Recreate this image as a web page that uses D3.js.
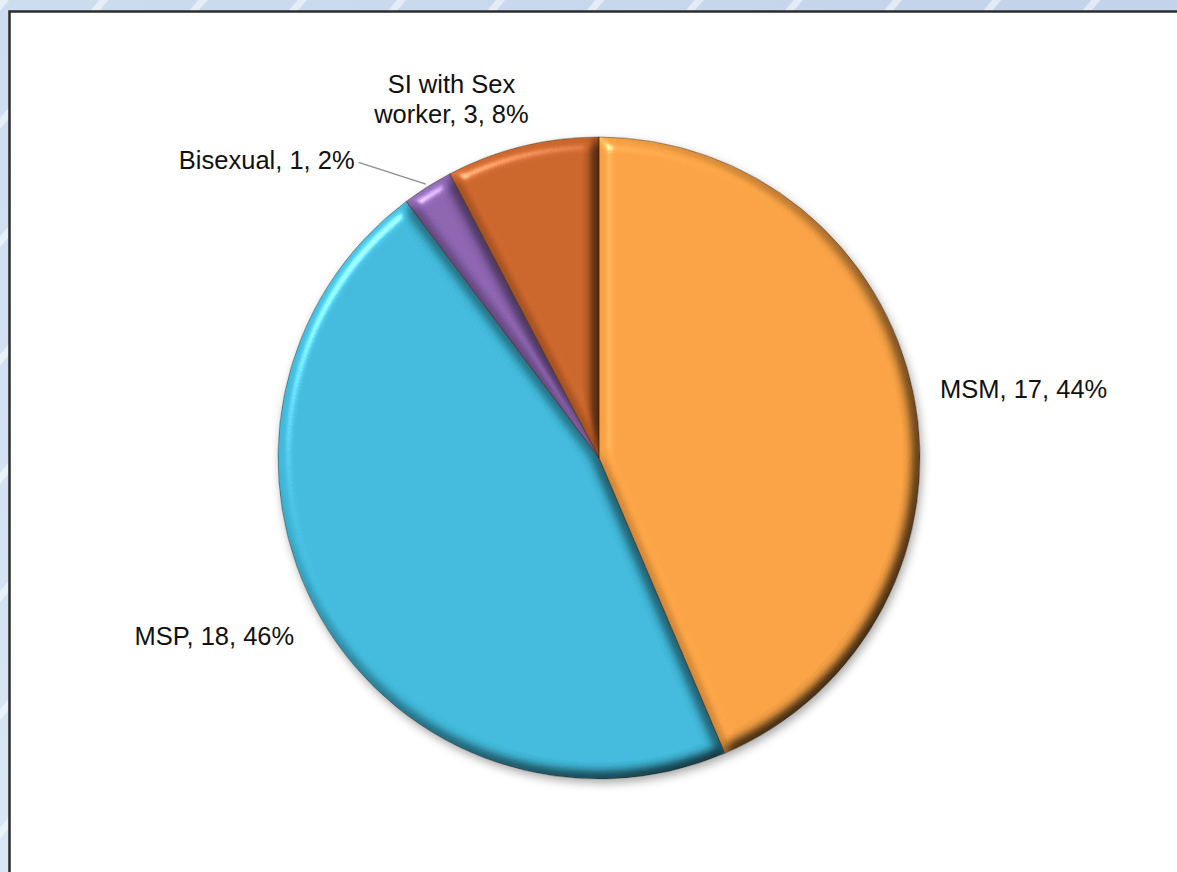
<!DOCTYPE html>
<html>
<head>
<meta charset="utf-8">
<script src="https://cdn.jsdelivr.net/npm/d3@7"></script>
<style>
  html, body { margin: 0; padding: 0; background: #d6e6f4; }
  svg { display: block; }
  text { font-family: "Liberation Sans", Arial, sans-serif; fill: #111; }
</style>
</head>
<body>
<svg id="chart" width="1177" height="872"></svg>
<script>
// Cases by mode of transmission
const categories = ["MSM", "MSP", "Bisexual", "SI with Sex worker"];
const counts = [17, 18, 1, 3];
const percents = [44, 46, 2, 8];
const colors = ["#f6a043", "#40b8d9", "#8a62ad", "#c8642a"];

const W = 1177, H = 872;
const cx = 599, cy = 458, R = 321;

const svg = d3.select("#chart");
const defs = svg.append("defs");

// Page background: pale blue with faint diagonal streaks
const bg = defs.append("linearGradient").attr("id", "bgGrad")
  .attr("x1", 0).attr("y1", 1).attr("x2", 1).attr("y2", 0);
bg.append("stop").attr("offset", 0).attr("stop-color", "#d7e7f5");
bg.append("stop").attr("offset", 1).attr("stop-color", "#c2d3ea");

const pat = defs.append("pattern").attr("id", "streaks")
  .attr("patternUnits", "userSpaceOnUse").attr("width", 76).attr("height", 76)
  .attr("patternTransform", "rotate(40)");
pat.append("rect").attr("x", 0).attr("y", 0).attr("width", 7).attr("height", 76)
  .attr("fill", "#ffffff").attr("opacity", 0.5);

svg.append("rect").attr("width", W).attr("height", H).attr("fill", "url(#bgGrad)");
svg.append("rect").attr("width", W).attr("height", H).attr("fill", "url(#streaks)");

// White chart panel
svg.append("rect")
  .attr("x", 9.5).attr("y", 11.5).attr("width", W + 20).attr("height", H + 20)
  .attr("fill", "#ffffff").attr("stroke", "#2c2c2c").attr("stroke-width", 2.5);

// Bevel filter: lit from the upper left, darker on the far edges
const bevel = defs.append("filter").attr("id", "bevel")
  .attr("x", "-10%").attr("y", "-10%").attr("width", "120%").attr("height", "120%")
  .attr("color-interpolation-filters", "sRGB");
bevel.append("feGaussianBlur").attr("in", "SourceAlpha").attr("stdDeviation", 6.5).attr("result", "blur");
const diff = bevel.append("feDiffuseLighting").attr("in", "blur")
  .attr("surfaceScale", 11).attr("diffuseConstant", 1 / Math.sin(55 * Math.PI / 180))
  .attr("lighting-color", "#ffffff").attr("result", "diff");
diff.append("feDistantLight").attr("azimuth", 225).attr("elevation", 55);
const spec = bevel.append("feSpecularLighting").attr("in", "blur")
  .attr("surfaceScale", 11).attr("specularConstant", 0.6).attr("specularExponent", 24)
  .attr("lighting-color", "#ffffff").attr("result", "spec");
spec.append("feDistantLight").attr("azimuth", 225).attr("elevation", 30);
// keep part of the base colour so the shaded rims stay a deep tone rather than black
bevel.append("feComposite").attr("in", "SourceGraphic").attr("in2", "diff")
  .attr("operator", "arithmetic").attr("k1", 0.72).attr("k2", 0.28).attr("k3", 0).attr("k4", 0)
  .attr("result", "shaded");
bevel.append("feComposite").attr("in", "spec").attr("in2", "SourceAlpha")
  .attr("operator", "in").attr("result", "specIn");
bevel.append("feComposite").attr("in", "shaded").attr("in2", "specIn")
  .attr("operator", "arithmetic").attr("k1", 0).attr("k2", 1).attr("k3", 0.7).attr("k4", 0)
  .attr("result", "lit");
bevel.append("feComposite").attr("in", "lit").attr("in2", "SourceAlpha").attr("operator", "in");

// Soft drop shadow under the whole pie
const shadow = defs.append("filter").attr("id", "shadow")
  .attr("x", "-10%").attr("y", "-10%").attr("width", "120%").attr("height", "120%");
shadow.append("feDropShadow").attr("dx", 2).attr("dy", 4).attr("stdDeviation", 5)
  .attr("flood-color", "#000").attr("flood-opacity", 0.35);

const data = categories.map((c, i) => ({ name: c, value: counts[i], pct: percents[i], color: colors[i] }));

const pie = d3.pie().value(d => d.value).sort(null);
const arcs = pie(data);
const arc = d3.arc().innerRadius(0).outerRadius(R);

const g = svg.append("g").attr("transform", `translate(${cx},${cy})`);
const slices = g.append("g").attr("filter", "url(#shadow)");

slices.selectAll("path.slice")
  .data(arcs)
  .join("path")
  .attr("class", "slice")
  .attr("d", arc)
  .attr("fill", d => d.data.color)
  .attr("filter", "url(#bevel)");

// Thin dark seams between slices
g.selectAll("path.seam")
  .data(arcs)
  .join("path")
  .attr("class", "seam")
  .attr("d", arc)
  .attr("fill", "none")
  .attr("stroke", "#2a1808")
  .attr("stroke-opacity", 0.4)
  .attr("stroke-width", 1);

// Data labels: "name, count, percent"
const fs = 25.5;
const labelArc = d3.arc().innerRadius(R + 24).outerRadius(R + 24);
const layout = {
  "MSM": { anchor: "start", dx: 3, dy: 0 },
  "MSP": { anchor: "end", dx: -6, dy: 6 },
  "Bisexual": { anchor: "end", dx: -60, dy: -6 },
  "SI with Sex worker": { anchor: "middle", dx: -65, dy: -24 }
};
const lines = {
  "SI with Sex worker": d => ["SI with Sex", `worker, ${d.value}, ${d.pct}%`]
};

arcs.forEach(a => {
  const d = a.data;
  const L = layout[d.name];
  const [px, py] = labelArc.centroid(a);
  const x = px + L.dx, y = py + L.dy;
  const txt = lines[d.name] ? lines[d.name](d) : [`${d.name}, ${d.value}, ${d.pct}%`];
  const t = g.append("text")
    .attr("x", x).attr("y", y)
    .attr("text-anchor", L.anchor)
    .style("font-size", fs + "px");
  const n = txt.length;
  txt.forEach((s, i) => {
    t.append("tspan").attr("x", x)
      .attr("dy", i === 0 ? `${0.35 - (n - 1) * 0.57}em` : "1.14em")
      .text(s);
  });
  if (d.name === "Bisexual") {
    // leader line from the label to the slice edge
    const mid = (a.startAngle + a.endAngle) / 2;
    const ex = Math.sin(mid) * (R + 3), ey = -Math.cos(mid) * (R + 3);
    g.append("path")
      .attr("d", `M${x + 4},${y + 2}L${ex},${ey}`)
      .attr("fill", "none").attr("stroke", "#8c8c8c").attr("stroke-width", 1.2);
  }
});
</script>
</body>
</html>
